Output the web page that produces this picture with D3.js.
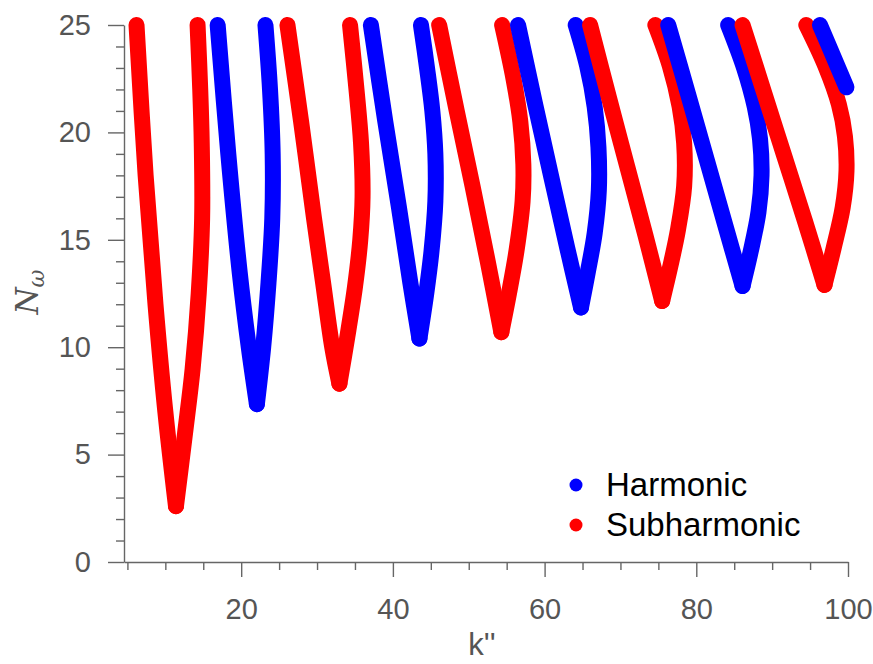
<!DOCTYPE html>
<html>
<head>
<meta charset="utf-8">
<script src="https://cdn.jsdelivr.net/npm/d3@7"></script>
<style>
  body { margin: 0; background: #fff; }
  svg { display: block; }
  .tick text { font-family: "Liberation Sans", Arial, sans-serif; }
</style>
</head>
<body>
<svg id="chart" width="873" height="664"></svg>
<script>
// tongues, each traced from left top down to the tip and back up: [k'', N_w]
const sub1 = [[6.2,25],[7.4,18],[8.7,12],[10.0,7],[11.4,2.6],[12.6,6],[13.6,9],[14.4,12.5],[14.85,16],[14.8,19.5],[14.6,22],[14.25,25]];
const harm1 = [[16.9,25],[18.3,19],[19.8,13.5],[21.0,10],[22.07,7.35],[22.9,10],[23.6,13],[24.1,16],[24.15,19],[23.8,22],[23.2,25]];
const sub2 = [[26.1,25],[27.9,20.5],[29.6,16],[30.8,13],[32.0,10],[32.95,8.3],[34.0,10.5],[35.0,12.8],[35.7,15],[36.0,17],[35.8,19.5],[35.2,22],[34.35,25]];
const harm2 = [[37.1,25],[39.0,20.5],[40.8,16.5],[42.3,13],[43.5,10.4],[44.4,12.5],[45.1,14.5],[45.6,16.8],[45.6,19],[45.2,21],[44.5,23],[43.7,25]];
const sub3 = [[46.1,25],[48.3,21.2],[50.5,17.5],[52.5,14],[54.3,10.7],[55.3,12.5],[56.3,14.5],[57.1,16.8],[57.2,18.5],[56.8,20.5],[55.9,22.5],[54.4,25]];
const harm3 = [[56.5,25],[58.7,21.4],[60.9,17.9],[63.0,14.6],[64.8,11.85],[65.7,13.5],[66.6,15.3],[67.15,17.3],[67.1,19.3],[66.6,21.2],[65.6,23.1],[64.1,25]];
const sub4 = [[66.0,25],[68.5,21.6],[70.9,18.4],[73.3,15.2],[75.5,12.15],[76.6,13.8],[77.6,15.5],[78.4,17.5],[78.4,19.5],[77.8,21.2],[76.5,23.1],[74.6,25]];
const harm4 = [[76.3,25],[78.9,21.8],[81.4,18.7],[83.8,15.7],[86.1,12.85],[87.2,14.5],[88.2,16.3],[88.6,18.0],[88.4,19.7],[87.7,21.2],[86.3,23.0],[84.2,25]];
const sub5 = [[86.1,25],[88.9,21.9],[91.6,18.9],[94.3,15.9],[96.9,12.9],[98.1,14.6],[99.3,16.5],[99.8,18.2],[99.6,19.8],[98.8,21.3],[97.0,23.1],[94.5,25]];
const harm5 = [[96.3,25],[98.05,23.55],[99.8,22.1]];

// drawn in order of increasing k'' so later tongues sit on top
const tongues = [
  {type:'sub', pts:sub1}, {type:'harm', pts:harm1},
  {type:'sub', pts:sub2}, {type:'harm', pts:harm2},
  {type:'sub', pts:sub3}, {type:'harm', pts:harm3},
  {type:'sub', pts:sub4}, {type:'harm', pts:harm4},
  {type:'sub', pts:sub5}, {type:'harm', pts:harm5}
];

const xMajor = [20, 40, 60, 80, 100];
const xMinor = [5, 10, 15, 25, 30, 35, 45, 50, 55, 65, 70, 75, 85, 90, 95];
const yMajor = [0, 5, 10, 15, 20, 25];
const yMinor = d3.range(0, 26).filter(v => v % 5 != 0);
const legendItems = [{type:'harm', label:'Harmonic'}, {type:'sub', label:'Subharmonic'}];

const colors = {harm:'#0000ff', sub:'#ff0000'};
const axisColor = '#666';
const textColor = '#555';

const svg = d3.select('#chart');
const x = d3.scaleLinear().domain([4.55, 100]).range([124, 848]);
const y = d3.scaleLinear().domain([0, 25]).range([562, 25]);

// minor ticks first, majors on top with the labels
svg.append('g')
  .attr('transform', 'translate(0,562)')
  .call(d3.axisBottom(x).tickValues(xMinor).tickSize(8).tickSizeOuter(0).tickFormat(''))
  .call(g => g.select('.domain').remove());
svg.append('g')
  .attr('transform', 'translate(124,0)')
  .call(d3.axisLeft(y).tickValues(yMinor).tickSize(8).tickSizeOuter(0).tickFormat(''))
  .call(g => g.select('.domain').remove());

let xAxis = svg.append('g')
  .attr('transform', 'translate(0,562)')
  .call(d3.axisBottom(x).tickValues(xMajor).tickSize(15).tickSizeOuter(0).tickPadding(21));
let yAxis = svg.append('g')
  .attr('transform', 'translate(124,0)')
  .call(d3.axisLeft(y).tickValues(yMajor).tickSize(16).tickSizeOuter(0).tickPadding(17));

svg.selectAll('.tick line, .domain')
  .attr('stroke', axisColor)
  .attr('stroke-width', 1.4);
[xAxis, yAxis].forEach(a => a.selectAll('text')
  .attr('font-size', 29)
  .attr('fill', textColor));

// split each tongue at its tip into two branches so the tip stays sharp
function branches(t) {
  let tip = d3.minIndex(t.pts, d => d[1]);
  let left = t.pts.slice(0, tip + 1);
  let right = t.pts.slice(tip);
  return [left, right].filter(b => b.length > 1).map(b => ({type: t.type, pts: b}));
}

const line = d3.line()
  .x(d => x(d[0]))
  .y(d => y(d[1]))
  .curve(d3.curveCatmullRom.alpha(0.5));

let groups = svg.append('g').selectAll('g').data(tongues)
  .enter().append('g');
groups.selectAll('path').data(d => branches(d))
  .enter().append('path')
  .attr('d', d => line(d.pts))
  .attr('fill', 'none')
  .attr('stroke', d => colors[d.type])
  .attr('stroke-width', 16)
  .attr('stroke-linecap', 'round')
  .attr('stroke-linejoin', 'round');

// axis labels
svg.append('text')
  .attr('x', 482).attr('y', 655)
  .attr('text-anchor', 'middle')
  .attr('font-family', '"Liberation Sans", Arial, sans-serif')
  .attr('font-size', 31)
  .attr('fill', textColor)
  .text("k''");

let ylab = svg.append('text')
  .attr('transform', 'translate(38,292) rotate(-90)')
  .attr('text-anchor', 'middle')
  .attr('font-family', '"DejaVu Serif", "Liberation Serif", serif')
  .attr('font-style', 'italic')
  .attr('font-size', 31)
  .attr('fill', textColor);
ylab.append('tspan').text('N');
ylab.append('tspan').attr('font-size', 22).attr('dy', 6).text('ω');

// legend
let legend = svg.append('g');
legend.selectAll('circle').data(legendItems)
  .enter().append('circle')
  .attr('cx', 576)
  .attr('cy', (d, i) => 485 + i * 40)
  .attr('r', 6.5)
  .attr('fill', d => colors[d.type]);
legend.selectAll('text').data(legendItems)
  .enter().append('text')
  .attr('x', 606)
  .attr('y', (d, i) => 496 + i * 40)
  .attr('font-family', '"Liberation Sans", Arial, sans-serif')
  .attr('font-size', 33)
  .attr('fill', '#000')
  .text(d => d.label);
</script>
</body>
</html>
